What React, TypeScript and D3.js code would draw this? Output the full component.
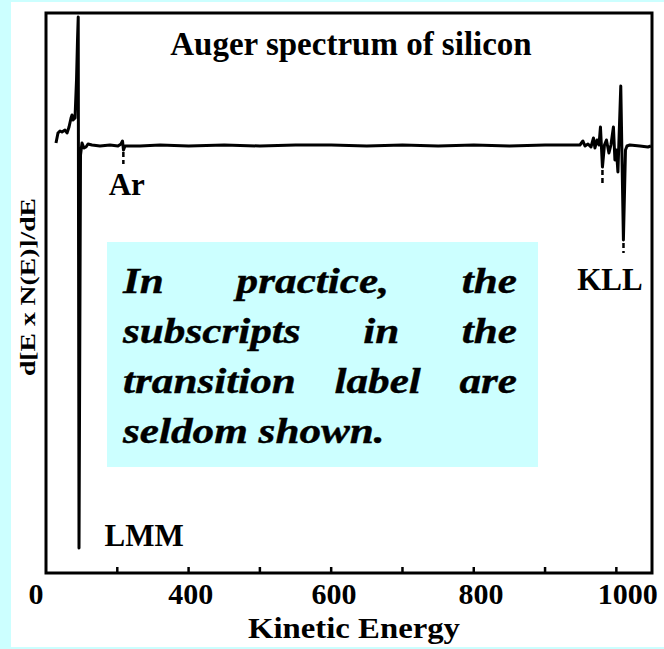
import React, { useEffect, useRef } from "react";
import * as d3 from "d3";

// Spectrum: kinetic energy (eV, as labelled on the slide's axis scale) vs derivative signal (arb. units)
const energy = [
  214, 216.8, 219.6, 222.4, 226.6, 229.5, 232.3, 235.1, 236.5, 237.9, 240.7, 242.8, 244.2, 245.2,
  246.3, 248.4, 250.5, 253.3, 256.1, 258.9, 264.5, 275.7, 289.8, 301, 305.2, 307.3, 308.7, 310.8,
  331.8, 360, 400, 450, 500, 550, 600, 650, 700, 750, 800, 850, 900, 941.9, 948.9, 953.1, 956,
  960.2, 964.4, 967.9, 970, 972.8, 975.6, 977.7, 980.5, 983.3, 986.1, 989.6, 992.4, 995.9, 998,
  1000.1, 1002.2, 1006.2, 1009.9, 1012.8, 1014.9, 1019, 1033, 1044.3, 1048.5,
];
const signal = [
  2, 12, 14, 13, 15, 12, 18, 27, 30, 25, 27, 65, 105, 128,
  -403, -10, 2, -3, -2, 1, 0, -1, 0, -1, 1, 4, -5, -1,
  -1, 0, -1, 0, -1, 0, 0, -1, 0, -1, 0, -1, 0, 0, 0, 4, -1,
  1, -2, 7, -3, 5, 0, 18, -22, 0, 5, -8, 0, 18, -15,
  -5, -27, 59, -95, -5, -1, 0, -1, -2, -1,
];

// dashed peak markers: energy, signal from, signal to
const markerEnergy = [308.5, 980.5, 1010];
const markerFrom = [-7, -25, -98];
const markerTo = [-19, -40, -108];

const xTicks = [300, 400, 500, 600, 700, 800, 900, 1000];
const xTickLabels = ["0", "400", "600", "800", "1000"];
const xTickLabelAt = [186, 403, 604, 810, 1016];

const peakLabels = ["Ar", "KLL", "LMM"];
const peakLabelEnergy = [288, 945, 282];
const peakLabelSignal = [-50, -145, -401];

const boxLines = [
  ["In", "practice,", "the"],
  ["subscripts", "in", "the"],
  ["transition", "label", "are"],
  ["seldom shown."],
];

const W = 664;
const H = 649;
const SERIF = "'Liberation Serif', 'Times New Roman', Times, serif";

export default function App() {
  const ref = useRef<SVGSVGElement | null>(null);

  useEffect(() => {
    const svg = d3.select(ref.current);
    svg.selectAll("*").remove();

    const left = 46, right = 652, top = 13, bottom = 573;
    const x = d3.scaleLinear().domain([200, 1050]).range([left, right]);
    const y = d3.scaleLinear().domain([-428, 132]).range([bottom, top]);

    svg.append("rect").attr("width", W).attr("height", H).attr("fill", "#ccffff");
    svg.append("rect").attr("x", 11).attr("y", 2).attr("width", W - 11).attr("height", 645).attr("fill", "#ffffff");

    // title
    svg.append("text").attr("x", 351).attr("y", 55).attr("text-anchor", "middle")
      .attr("font-family", SERIF).attr("font-weight", "bold").attr("font-size", 33)
      .text("Auger spectrum of silicon");

    // text box
    const bx = 107, by = 242, bw = 431, bh = 225;
    svg.append("rect").attr("x", bx).attr("y", by).attr("width", bw).attr("height", bh).attr("fill", "#ccffff");
    const tl = 123, tr = 517;
    const stretch = 1.2;
    boxLines.forEach((words, i) => {
      const baseY = 293 + i * 50;
      const nodes = words.map((w) =>
        svg.append("text").attr("y", baseY)
          .attr("font-family", SERIF).attr("font-weight", "bold").attr("font-style", "italic")
          .attr("font-size", 36).attr("stroke", "#000").attr("stroke-width", 0.4).text(w)
      );
      const widths = nodes.map((n) => (n.node() as SVGTextElement).getComputedTextLength() * stretch);
      nodes.forEach((n, j) => n.attr("textLength", widths[j]).attr("lengthAdjust", "spacingAndGlyphs"));
      if (words.length === 1) {
        nodes[0].attr("x", tl);
        return;
      }
      const gap = (tr - tl - d3.sum(widths)) / (words.length - 1);
      let cx = tl;
      nodes.forEach((n, j) => {
        n.attr("x", cx);
        cx += widths[j] + gap;
      });
    });

    // frame
    svg.append("rect").attr("x", left).attr("y", top).attr("width", right - left).attr("height", bottom - top)
      .attr("fill", "none").attr("stroke", "#000").attr("stroke-width", 3);

    // ticks
    svg.append("g").selectAll("line").data(xTicks).join("line")
      .attr("x1", (d) => x(d)).attr("x2", (d) => x(d))
      .attr("y1", bottom).attr("y2", bottom - 6)
      .attr("stroke", "#000").attr("stroke-width", 2.5);

    svg.append("g").selectAll("text").data(xTickLabels).join("text")
      .attr("x", (_d, i) => x(xTickLabelAt[i])).attr("y", 604).attr("text-anchor", "middle")
      .attr("font-family", SERIF).attr("font-weight", "bold").attr("font-size", 30)
      .text((d) => d);

    svg.append("text").attr("x", 354).attr("y", 638).attr("text-anchor", "middle")
      .attr("font-family", SERIF).attr("font-weight", "bold").attr("font-size", 30)
      .attr("textLength", 212).attr("lengthAdjust", "spacingAndGlyphs")
      .text("Kinetic Energy");

    svg.append("text").attr("transform", "translate(35,287) rotate(-90)").attr("text-anchor", "middle")
      .attr("font-family", SERIF).attr("font-weight", "bold").attr("font-size", 21)
      .attr("textLength", 178).attr("lengthAdjust", "spacingAndGlyphs")
      .text("d[E x N(E)]/dE");

    // spectrum
    const pts = energy.map((e, i) => [e, signal[i]] as [number, number]);
    const line = d3.line<[number, number]>().x((d) => x(d[0])).y((d) => y(d[1])).curve(d3.curveLinear);
    svg.append("path").attr("d", line(pts) || "").attr("fill", "none")
      .attr("stroke", "#000").attr("stroke-width", 3).attr("stroke-linejoin", "round");

    // markers
    svg.append("g").selectAll("line").data(markerEnergy).join("line")
      .attr("x1", (d) => x(d)).attr("x2", (d) => x(d))
      .attr("y1", (_d, i) => y(markerFrom[i])).attr("y2", (_d, i) => y(markerTo[i]))
      .attr("stroke", "#000").attr("stroke-width", 2.5).attr("stroke-dasharray", "5,3");

    // peak labels
    svg.append("g").selectAll("text").data(peakLabels).join("text")
      .attr("x", (_d, i) => x(peakLabelEnergy[i])).attr("y", (_d, i) => y(peakLabelSignal[i]))
      .attr("font-family", SERIF).attr("font-weight", "bold").attr("font-size", 31)
      .text((d) => d);
  }, []);

  return (
    <div style={{ position: "absolute", left: 0, top: 0 }}>
      <svg ref={ref} width={W} height={H} style={{ display: "block" }} />
    </div>
  );
}
